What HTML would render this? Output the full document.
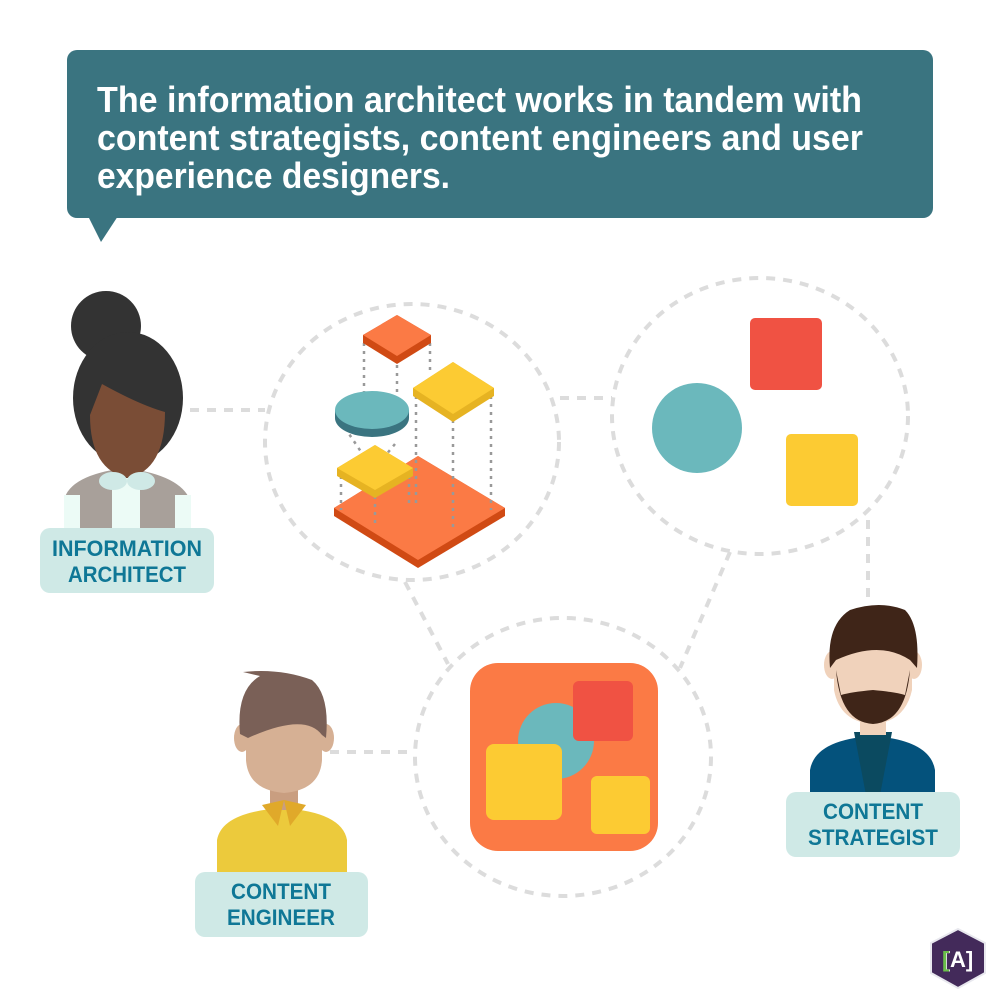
<!DOCTYPE html>
<html><head><meta charset="utf-8"><style>html,body{margin:0;padding:0;background:#fff}svg{display:block}</style></head>
<body>
<svg width="1000" height="1000" viewBox="0 0 1000 1000" xmlns="http://www.w3.org/2000/svg" font-family="Liberation Sans, sans-serif">
<rect width="1000" height="1000" fill="#fff"/>
<!-- banner -->
<rect x="67" y="50" width="866" height="168" rx="10" fill="#3a7480"/>
<polygon points="88,216 118,216 101,242" fill="#3a7480"/>
<g fill="#fff" font-weight="bold" font-size="36">
<text x="97" y="112" textLength="765" lengthAdjust="spacingAndGlyphs">The information architect works in tandem with</text>
<text x="97" y="150" textLength="766" lengthAdjust="spacingAndGlyphs">content strategists, content engineers and user</text>
<text x="97" y="188" textLength="353" lengthAdjust="spacingAndGlyphs">experience designers.</text>
</g>
<!-- dashed circles & connectors -->
<g fill="none" stroke="#dcdcdc" stroke-width="4" stroke-dasharray="9 8">
<ellipse cx="412" cy="442" rx="147" ry="138"/>
<ellipse cx="760" cy="416" rx="148" ry="138"/>
<ellipse cx="563" cy="757" rx="148" ry="139"/>
<line x1="190" y1="410" x2="265" y2="410"/>
<line x1="560" y1="398" x2="612" y2="398"/>
<line x1="868" y1="520" x2="868" y2="600"/>
<line x1="405" y1="582" x2="448" y2="664"/>
<line x1="730" y1="552" x2="680" y2="668"/>
<line x1="330" y1="752" x2="415" y2="752"/>
</g>
<!-- isometric -->
<g>
<polygon points="334,508 418,456 505,508 505,516 418,568 334,516" fill="#d04a14"/>
<polygon points="334,508 418,456 505,508 418,560" fill="#fb7a45"/>
<g stroke="#999" stroke-width="2.5" stroke-dasharray="3 5" fill="none">
<line x1="364" y1="343" x2="364" y2="392"/>
<line x1="397" y1="365" x2="397" y2="405"/>
<line x1="430" y1="343" x2="430" y2="372"/>
<line x1="416" y1="396" x2="416" y2="507"/>
<line x1="453" y1="420" x2="453" y2="528"/>
<line x1="491" y1="396" x2="491" y2="510"/>
<line x1="341" y1="476" x2="341" y2="510"/>
<line x1="375" y1="496" x2="375" y2="526"/>
<line x1="409" y1="476" x2="409" y2="507"/>
<line x1="345" y1="428" x2="372" y2="468"/>
<line x1="395" y1="444" x2="375" y2="468"/>
</g>
<polygon points="337,468 375,445 413,468 413,476 375,498 337,476" fill="#e6b322"/>
<polygon points="337,468 375,445 413,468 375,490" fill="#fccb33"/>
<ellipse cx="372" cy="418" rx="37" ry="19" fill="#3a7480"/>
<rect x="335" y="410" width="74" height="8" fill="#3a7480"/>
<ellipse cx="372" cy="410" rx="37" ry="19" fill="#6bb8bc"/>
<polygon points="413,388 453,362 494,388 494,396 453,422 413,396" fill="#e6b322"/>
<polygon points="413,388 453,362 494,388 453,414" fill="#fccb33"/>
<polygon points="363,335 397,315 431,335 431,343 397,364 363,343" fill="#d04a14"/>
<polygon points="363,335 397,315 431,335 397,356" fill="#fb7a45"/>
</g>
<!-- circle 2 content -->
<rect x="750" y="318" width="72" height="72" rx="5" fill="#f05243"/>
<circle cx="697" cy="428" r="45" fill="#6bb8bc"/>
<rect x="786" y="434" width="72" height="72" rx="5" fill="#fccb33"/>
<!-- circle 3 content -->
<rect x="470" y="663" width="188" height="188" rx="28" fill="#fb7a45"/>
<circle cx="556" cy="741" r="38" fill="#6bb8bc"/>
<rect x="573" y="681" width="60" height="60" rx="6" fill="#f05243"/>
<rect x="486" y="744" width="76" height="76" rx="8" fill="#fccb33"/>
<rect x="591" y="776" width="59" height="58" rx="6" fill="#fccb33"/>
<!-- woman -->
<g>
<path d="M64,530 L64,500 Q70,475 125,468 Q180,475 190,500 L190,530 Z" fill="#a8a09a"/>
<rect x="64" y="495" width="16" height="35" fill="#ecfbf6"/>
<rect x="175" y="495" width="16" height="35" fill="#ecfbf6"/>
<rect x="112" y="475" width="28" height="55" fill="#ecfbf6"/>
<circle cx="106" cy="326" r="35" fill="#333"/>
<ellipse cx="128" cy="398" rx="55" ry="66" fill="#333"/>
<rect x="114" y="450" width="26" height="28" fill="#5e3a26"/>
<path d="M102,384 Q140,405 165,412 Q165,470 128,478 Q90,470 90,415 Z" fill="#7a4d36"/>
<ellipse cx="113" cy="481" rx="14" ry="9" fill="#cfe9e6"/>
<ellipse cx="141" cy="481" rx="14" ry="9" fill="#cfe9e6"/>
</g>
<rect x="40" y="528" width="174" height="65" rx="10" fill="#cfe9e6"/>
<g fill="#0f7796" font-weight="bold" font-size="22" text-anchor="middle">
<text x="127" y="556" textLength="150" lengthAdjust="spacingAndGlyphs">INFORMATION</text><text x="127" y="582" textLength="118" lengthAdjust="spacingAndGlyphs">ARCHITECT</text></g>
<!-- engineer -->
<g>
<path d="M217,872 L217,840 Q222,812 282,808 Q342,812 347,840 L347,872 Z" fill="#ecca3c"/>
<rect x="270" y="780" width="28" height="30" fill="#c99e80"/>
<path d="M262,805 L284,800 L278,826 Z" fill="#e0a92a"/>
<path d="M306,805 L284,800 L290,826 Z" fill="#e0a92a"/>
<ellipse cx="242" cy="738" rx="8" ry="14" fill="#d6b094"/>
<ellipse cx="326" cy="738" rx="8" ry="14" fill="#d6b094"/>
<path d="M246,720 L322,720 L322,760 Q320,790 284,793 Q248,790 246,760 Z" fill="#d6b094"/>
<path d="M240,734 Q236,690 260,676 L243,672 Q280,668 312,680 Q330,695 326,738 L322,735 Q305,712 248,738 Z" fill="#7a6057"/>
</g>
<rect x="195" y="872" width="173" height="65" rx="10" fill="#cfe9e6"/>
<g fill="#0f7796" font-weight="bold" font-size="22" text-anchor="middle">
<text x="281" y="899" textLength="100" lengthAdjust="spacingAndGlyphs">CONTENT</text><text x="281" y="925" textLength="108" lengthAdjust="spacingAndGlyphs">ENGINEER</text></g>
<!-- strategist -->
<g>
<path d="M810,795 L810,770 Q815,740 872,736 Q930,740 935,770 L935,795 Z" fill="#04527c"/>
<polygon points="854,732 892,732 880,795 866,795" fill="#0b4a60"/>
<rect x="860" y="715" width="26" height="20" fill="#f0d2bb"/>
<ellipse cx="832" cy="665" rx="8" ry="14" fill="#f0d2bb"/>
<ellipse cx="914" cy="665" rx="8" ry="14" fill="#f0d2bb"/>
<path d="M834,650 L912,650 L912,690 Q905,722 873,724 Q840,722 834,690 Z" fill="#f0d2bb"/>
<path d="M836,670 Q840,722 873,724 Q906,722 910,670 L905,695 Q895,692 873,690 Q851,692 841,695 Z" fill="#3f2518"/>
<path d="M830,668 Q826,625 850,610 Q880,600 905,610 Q920,625 917,668 L910,660 Q880,640 836,660 Z" fill="#3f2518"/>
</g>
<rect x="786" y="792" width="174" height="65" rx="10" fill="#cfe9e6"/>
<g fill="#0f7796" font-weight="bold" font-size="22" text-anchor="middle">
<text x="873" y="819" textLength="100" lengthAdjust="spacingAndGlyphs">CONTENT</text><text x="873" y="845" textLength="130" lengthAdjust="spacingAndGlyphs">STRATEGIST</text></g>
<!-- logo -->
<polygon points="958,929 985,943 985,973 958,988 931,973 931,943" fill="#432a5a" stroke="#e8e8ee" stroke-width="2"/>
<text x="958" y="967" fill="#fff" font-weight="bold" font-size="22" text-anchor="middle">[A]</text>
<text x="942" y="967" fill="#6ac04a" font-weight="bold" font-size="22">[</text>
</svg>
</body></html>
